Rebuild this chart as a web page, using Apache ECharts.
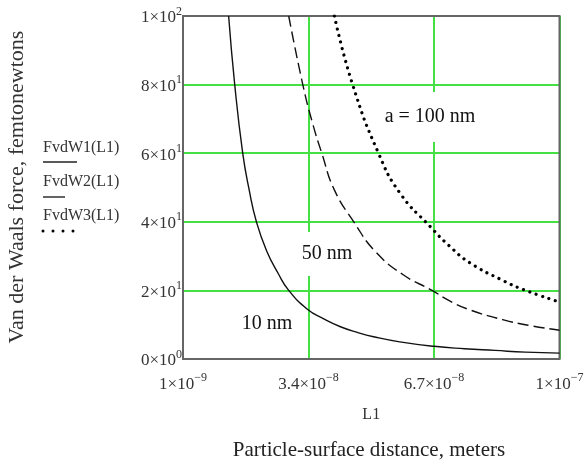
<!DOCTYPE html>
<html><head><meta charset="utf-8">
<script src="https://cdn.jsdelivr.net/npm/echarts@6/dist/echarts.min.js"></script>
<style>html,body{margin:0;padding:0;background:#fff}#c{width:588px;height:463px}</style>
</head><body><div id="c"></div>
<script>
// Tick values and labels
const xTickValues = [1e-9, 3.4e-8, 6.7e-8, 1e-7];
const xTickMantissa = ['1', '3.4', '6.7', '1'];
const xTickExponent = ['\u22129', '\u22128', '\u22128', '\u22127'];
const yTickValues = [0, 20, 40, 60, 80, 100];
const yTickMantissa = ['0', '2', '4', '6', '8', '1'];
const yTickExponent = ['0', '1', '1', '1', '1', '2'];

// FvdW1 (a = 10 nm), solid
const w1L = [13.0e-9, 14.6e-9, 16.7e-9, 18.4e-9, 20.3e-9, 23.0e-9, 26.0e-9, 28.8e-9, 33.7e-9, 38.0e-9, 42.4e-9, 47.0e-9, 51.1e-9, 58.0e-9, 67.0e-9, 75.0e-9, 83.0e-9, 91.0e-9, 100.0e-9];
const w1F = [100, 80, 60, 49.3, 40, 31.5, 25.0, 20, 14.5, 11.7, 9.4, 7.7, 6.5, 5.0, 3.7, 3.0, 2.5, 2.0, 1.7];
// FvdW2 (a = 50 nm), dashed
const w2L = [28.8e-9, 32.5e-9, 35.0e-9, 37.5e-9, 40.8e-9, 45.9e-9, 51.6e-9, 59.0e-9, 66.5e-9, 71.0e-9, 76.5e-9, 85.3e-9, 92.0e-9, 100.0e-9];
const w2F = [100, 80, 69, 60, 49.3, 40, 31.3, 24.5, 20, 17.0, 14.3, 11.4, 9.8, 8.4];
// FvdW3 (a = 100 nm), dotted
const w3L = [40.8e-9, 45.6e-9, 52.4e-9, 58.1e-9, 66.0e-9, 71.0e-9, 76.5e-9, 85.3e-9, 90.6e-9, 100.0e-9];
const w3F = [100, 80, 60, 48.3, 38.6, 33.0, 28.0, 22.8, 20.2, 16.6];

const serif = 'Liberation Serif';
const pairs = (xs, ys) => xs.map((x, i) => [x, ys[i]]);
const rich = {
  b: { fontFamily: serif, fontSize: 17, color: '#333', verticalAlign: 'bottom', lineHeight: 21 },
  s: { fontFamily: serif, fontSize: 12, color: '#333', verticalAlign: 'top', lineHeight: 12 }
};
function nearestIdx(arr, v) {
  let bi = 0, bd = Infinity;
  arr.forEach((a, i) => { const d = Math.abs(a - v); if (d < bd) { bd = d; bi = i; } });
  return bi;
}

const chart = echarts.init(document.getElementById('c'), null, { renderer: 'canvas' });
chart.setOption({
  backgroundColor: '#fff',
  animation: false,
  grid: { left: 183, right: 28.5, top: 16, bottom: 104, containLabel: false, outerBoundsMode: 'none',
    show: true, borderColor: '#666', borderWidth: 2, backgroundColor: 'transparent', z: 3 },
  xAxis: {
    type: 'value', min: 1e-9, max: 1e-7,
    name: 'L1', nameLocation: 'middle', nameGap: 48,
    nameTextStyle: { fontFamily: serif, fontSize: 16, color: '#333' },
    axisLine: { show: false },
    axisTick: { show: false, customValues: xTickValues },
    splitLine: { show: true, lineStyle: { color: '#44e044', width: 2 } },
    axisLabel: {
      customValues: xTickValues, margin: 13,
      formatter: v => { const i = nearestIdx(xTickValues, v); return '{b|' + xTickMantissa[i] + '\u00d710}{s|' + xTickExponent[i] + '}'; },
      rich: rich
    }
  },
  yAxis: {
    type: 'value', min: 0, max: 100, interval: 20,
    axisLine: { show: false },
    axisTick: { show: false },
    splitLine: { show: true, lineStyle: { color: '#44e044', width: 2 } },
    axisLabel: {
      margin: 1,
      formatter: v => { const i = nearestIdx(yTickValues, v); return '{b|' + yTickMantissa[i] + '\u00d710}{s|' + yTickExponent[i] + '}'; },
      rich: rich
    }
  },
  series: [
    { name: 'FvdW1(L1)', type: 'line', data: pairs(w1L, w1F), smooth: 0.5, showSymbol: false, z: 5,
      lineStyle: { color: '#111', width: 1.4, type: 'solid' } },
    { name: 'FvdW2(L1)', type: 'line', data: pairs(w2L, w2F), smooth: 0.5, showSymbol: false, z: 5,
      lineStyle: { color: '#111', width: 1.4, type: [11, 5] } },
    { name: 'FvdW3(L1)', type: 'line', data: pairs(w3L, w3F), smooth: 0.5, showSymbol: false, z: 5,
      lineStyle: { color: '#000', width: 3.2, type: [0.01, 6.7], cap: 'round' } }
  ],
  graphic: [
    { type: 'text', x: 17, y: 187, rotation: Math.PI / 2, style: { text: 'Van der Waals force, femtonewtons', fontFamily: serif, fontSize: 22, fill: '#333', align: 'center', verticalAlign: 'middle' } },
    { type: 'text', x: 430, y: 117, z: 4, style: { text: 'a = 100 nm', fontFamily: serif, fontSize: 20, fill: '#111', align: 'center', verticalAlign: 'middle', backgroundColor: '#fff', padding: [15, 4] } },
    { type: 'text', x: 327, y: 254, z: 4, style: { text: '50 nm', fontFamily: serif, fontSize: 20, fill: '#111', align: 'center', verticalAlign: 'middle', backgroundColor: '#fff', padding: [12, 4] } },
    { type: 'text', x: 267, y: 324, z: 4, style: { text: '10 nm', fontFamily: serif, fontSize: 20, fill: '#111', align: 'center', verticalAlign: 'middle' } },
    { type: 'text', x: 369, y: 450, style: { text: 'Particle-surface distance, meters', fontFamily: serif, fontSize: 21, fill: '#222', align: 'center', verticalAlign: 'middle' } },
    { type: 'text', x: 43, y: 148, style: { text: 'FvdW1(L1)', fontFamily: serif, fontSize: 16, fill: '#333', align: 'left', verticalAlign: 'middle' } },
    { type: 'line', shape: { x1: 43, y1: 162, x2: 77, y2: 162 }, style: { stroke: '#222', lineWidth: 1.4 } },
    { type: 'text', x: 43, y: 182, style: { text: 'FvdW2(L1)', fontFamily: serif, fontSize: 16, fill: '#333', align: 'left', verticalAlign: 'middle' } },
    { type: 'line', shape: { x1: 43, y1: 197, x2: 65, y2: 197 }, style: { stroke: '#222', lineWidth: 1.4 } },
    { type: 'text', x: 43, y: 216, style: { text: 'FvdW3(L1)', fontFamily: serif, fontSize: 16, fill: '#333', align: 'left', verticalAlign: 'middle' } },
    { type: 'circle', shape: { cx: 43, cy: 231, r: 1.5 }, style: { fill: '#000' } },
    { type: 'circle', shape: { cx: 53, cy: 231, r: 1.5 }, style: { fill: '#000' } },
    { type: 'circle', shape: { cx: 63, cy: 231, r: 1.5 }, style: { fill: '#000' } },
    { type: 'circle', shape: { cx: 73, cy: 231, r: 1.5 }, style: { fill: '#000' } }
  ]
});
</script></body></html>
